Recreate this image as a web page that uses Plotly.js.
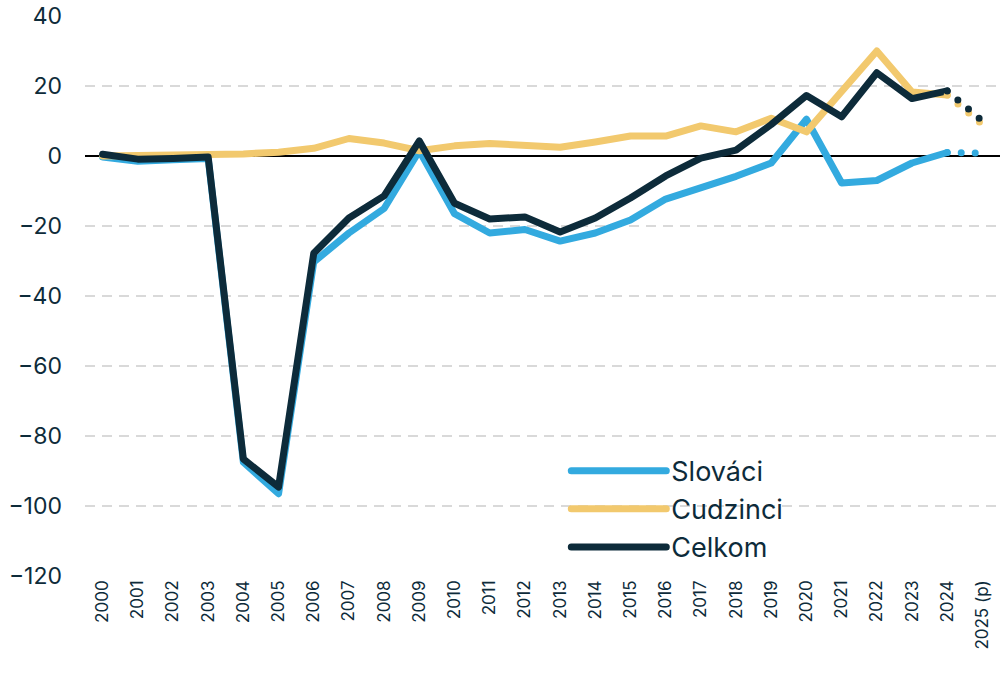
<html>
<head>
<script src="https://cdn.plot.ly/plotly-3.0.1.min.js"></script>
<style>
  body { margin: 0; background: #fff; }
  #chart { width: 1007px; height: 678px; }
</style>
</head>
<body>
<div id="chart"></div>
<script>
  // values
  const years = ['2000','2001','2002','2003','2004','2005','2006','2007','2008','2009',
    '2010','2011','2012','2013','2014','2015','2016','2017','2018','2019',
    '2020','2021','2022','2023','2024','2025 (p)'];
  const slovaci = [-0.3, -1.5, -1.1, -0.7, -87.5, -96.5, -30.3, -22, -15, 1.5,
    -16.5, -22, -21, -24.3, -22, -18.3, -12.3, -9.3, -5.8, -2,
    10.5, -7.7, -7, -2, 1, 0.8];
  const cudzinci = [0, 0.1, 0.2, 0.3, 0.6, 1.1, 2.2, 5, 3.7, 1.5,
    2.9, 3.6, 3, 2.5, 4, 5.7, 5.7, 8.6, 6.9, 10.8,
    6.9, 18.5, 30, 18.3, 17.4, 9];
  const celkom = [0.5, -0.9, -0.7, -0.3, -86.6, -94.6, -27.8, -17.7, -11.4, 4.3,
    -13.5, -18, -17.4, -21.7, -17.7, -12, -5.7, -0.6, 1.7, 9,
    17.3, 11.2, 23.8, 16.4, 18.6, 10];
  const yTicks = [-120, -100, -80, -60, -40, -20, 0, 20, 40];

  const series = [
    {name: 'Slováci', y: slovaci, color: '#33aadf'},
    {name: 'Cudzinci', y: cudzinci, color: '#f2c96e'},
    {name: 'Celkom', y: celkom, color: '#0d2b3a'}
  ];

  const last = years.length - 1; // projected year
  let data = [];
  series.forEach(s => {
    data.push({
      x: years.slice(0, last), y: s.y.slice(0, last),
      type: 'scatter', mode: 'lines', name: s.name,
      line: {color: s.color, width: 7}
    });
  });
  series.forEach(s => {
    data.push({
      x: years.slice(last - 1), y: s.y.slice(last - 1),
      type: 'scatter', mode: 'lines', showlegend: false, hoverinfo: 'skip',
      line: {color: s.color, width: 7, dash: '0px,14px'}
    });
  });

  const font = 'Inter, "Noto Sans", sans-serif';
  const layout = {
    width: 1007, height: 678,
    margin: {l: 85, r: 7, t: 16, b: 102},
    paper_bgcolor: '#fff', plot_bgcolor: '#fff',
    font: {family: font, color: '#0d2b3a'},
    showlegend: true,
    legend: {
      x: 0.526, y: 0.231, xanchor: 'left', yanchor: 'top',
      bgcolor: 'rgba(0,0,0,0)', font: {size: 27, color: '#0d2b3a'},
      itemwidth: 95, tracegroupgap: 0
    },
    xaxis: {
      type: 'category', tickangle: -90, tickfont: {size: 17},
      showgrid: false, zeroline: false, showline: false, ticks: '',
      range: [-0.5, years.length - 0.5], fixedrange: true
    },
    yaxis: {
      range: [-120, 40], tickvals: yTicks, tickfont: {size: 23},
      showgrid: true, gridcolor: '#d9d9d9', gridwidth: 2, griddash: '10px,7px',
      zeroline: true, zerolinecolor: '#000', zerolinewidth: 2.5,
      showline: false, ticks: '', ticklabelstandoff: 22, fixedrange: true
    }
  };

  Plotly.newPlot('chart', data, layout, {displayModeBar: false, staticPlot: true}).then(() => {
    // round caps so the dotted projection shows as dots
    document.querySelectorAll('.scatterlayer .js-line').forEach(p => {
      p.style.strokeLinecap = 'round';
      p.style.strokeLinejoin = 'round';
    });
    document.querySelectorAll('.legendlines path').forEach(p => {
      p.style.strokeLinecap = 'round';
    });
  });
</script>
</body>
</html>
